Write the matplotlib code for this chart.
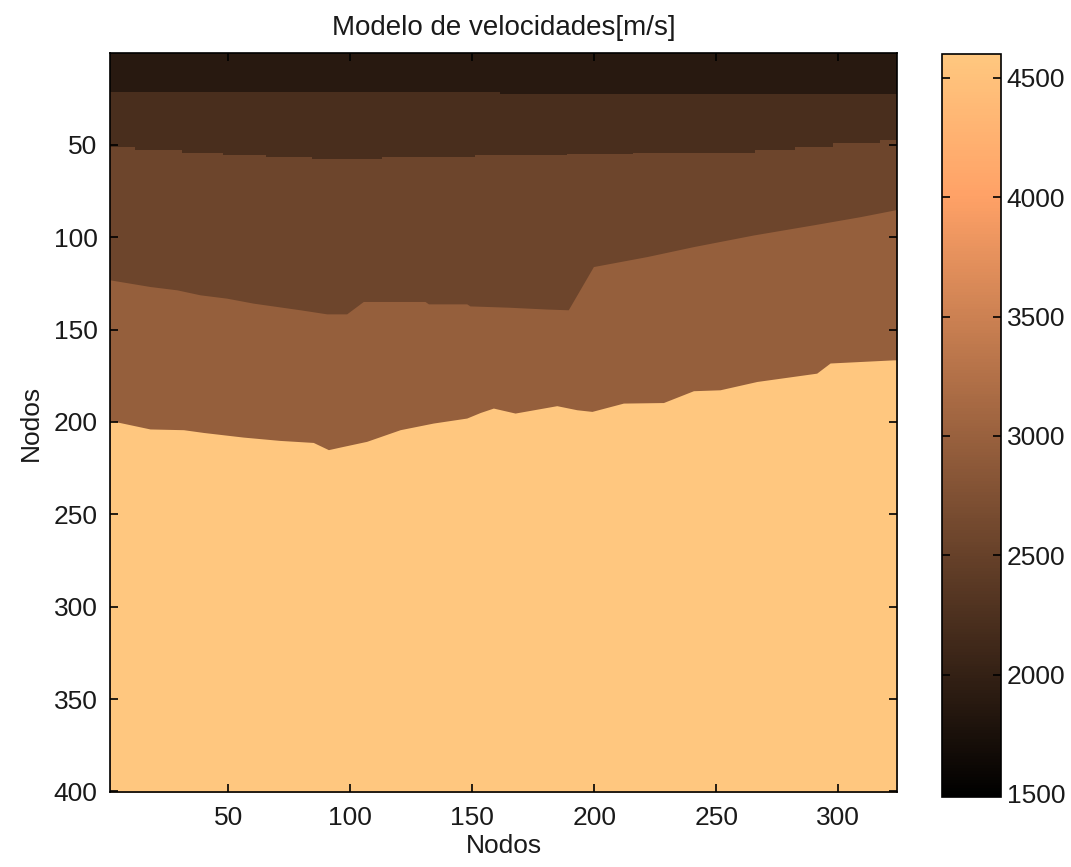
import numpy as np
import matplotlib
matplotlib.use("Agg")
import matplotlib.pyplot as plt
from matplotlib.colors import Normalize
from matplotlib.cm import ScalarMappable

# velocidades de cada capa [m/s], de arriba hacia abajo
layer_velocity = [1880, 2210, 2560, 2960, 4600]

# limites entre capas (nodo x, profundidad en nodos)
b1_x = [1.5, 161.3, 324]
b1_depth = [21.3, 22.5, 22.5]

b2_x = [1.5, 11.8, 31.0, 47.8, 65.5, 84.3, 113.0, 151.1, 188.8, 215.9, 265.9, 282.3, 297.8, 317.0, 324]
b2_depth = [51.2, 52.8, 54.2, 55.5, 56.7, 57.7, 56.7, 55.5, 55.1, 54.2, 52.8, 51.0, 49.0, 47.4, 46.3]

b3_x = [1.5, 9.7, 17.9, 28.9, 38.4, 49.3, 60.2, 69.8, 79.4, 90.3, 98.5, 105.3, 130.6, 132.0,
        147.7, 149.0, 164.8, 180.5, 189.3, 199.6, 221.5, 240.6, 265.2, 289.8, 308.9, 324]
b3_depth = [123.1, 124.9, 126.7, 128.5, 131.2, 133.0, 135.7, 137.5, 139.3, 141.5, 141.5, 134.8, 134.8, 136.1,
            136.1, 137.2, 137.9, 138.9, 139.3, 115.9, 110.5, 105.1, 98.8, 93.3, 88.9, 85.0]

b4_x = [1.5, 9.7, 17.9, 31.6, 39.8, 56.1, 71.1, 84.8, 91.0, 95.8, 106.7, 120.4, 134.0, 147.7, 153.2,
        158.6, 167.5, 184.6, 192.8, 199.0, 211.9, 228.3, 240.6, 251.5, 266.6, 291.1, 296.6, 322.5, 324]
b4_depth = [199.2, 201.5, 203.8, 204.2, 205.7, 208.2, 210.0, 211.1, 215.0, 213.6, 210.5, 204.2, 200.6, 197.9, 194.9,
            192.5, 195.2, 191.2, 193.4, 194.3, 189.8, 189.5, 183.1, 182.6, 178.1, 173.6, 168.1, 166.4, 166.4]

x_ticks = [50, 100, 150, 200, 250, 300]
y_ticks = [50, 100, 150, 200, 250, 300, 350, 400]
cb_ticks = [1500, 2000, 2500, 3000, 3500, 4000, 4500]

v_min, v_max = 1487, 4600
x_lim = (1.5, 324)
y_lim = (400.3, 0.3)


def plot_model():
    plt.rcParams["font.family"] = ["Liberation Sans", "DejaVu Sans"]
    fig = plt.figure(figsize=(10.71, 8.67), dpi=100)
    ax = fig.add_axes([0.1027, 0.0865, 0.7348, 0.8524])
    cax = fig.add_axes([0.8796, 0.0807, 0.0551, 0.857])

    cmap = plt.cm.copper
    norm = Normalize(vmin=v_min, vmax=v_max)
    bottom = y_lim[0]

    ax.fill_between(list(x_lim), [y_lim[1]] * 2, [bottom] * 2,
                    color=cmap(norm(layer_velocity[0])), linewidth=0)
    bounds = [(b1_x, b1_depth, "post"), (b2_x, b2_depth, "post"),
              (b3_x, b3_depth, None), (b4_x, b4_depth, None)]
    for (bx, bd, st), v in zip(bounds, layer_velocity[1:]):
        ax.fill_between(bx, bd, bottom, step=st, color=cmap(norm(v)), linewidth=0)

    ax.set_xlim(*x_lim)
    ax.set_ylim(*y_lim)
    ax.set_xticks(x_ticks)
    ax.set_yticks(y_ticks)
    ax.tick_params(direction="in", top=True, right=True, length=6, width=1.2,
                   labelsize=19, pad=9, colors="black", labelcolor="#1a1a1a")
    ax.tick_params(axis="x", pad=10)
    for s in ax.spines.values():
        s.set_linewidth(1.2)

    ax.set_title("Modelo de velocidades[m/s]", fontsize=20, pad=13, color="#1a1a1a")
    ax.set_xlabel("Nodos", fontsize=19, labelpad=3, color="#1a1a1a")
    ax.set_ylabel("Nodos", fontsize=19, labelpad=8, color="#1a1a1a")

    sm = ScalarMappable(norm=norm, cmap=cmap)
    cb = fig.colorbar(sm, cax=cax, ticks=cb_ticks)
    cb.outline.set_linewidth(1.2)
    cax.tick_params(direction="in", left=True, right=True, length=6, width=1.2,
                    labelsize=19, pad=4, labelcolor="#1a1a1a")

    fig.savefig("out.png", dpi=100)
    plt.close(fig)


if __name__ == "__main__":
    plot_model()
